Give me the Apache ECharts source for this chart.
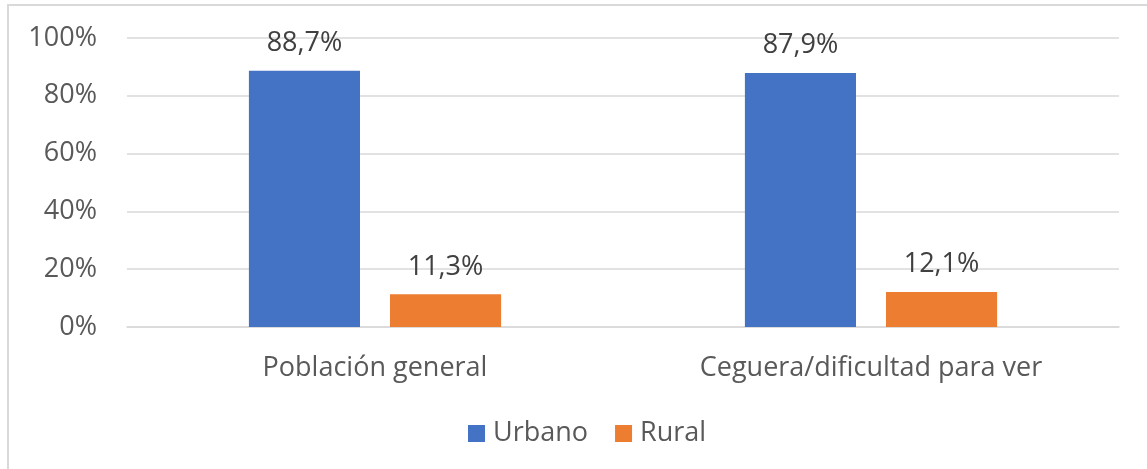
<!DOCTYPE html>
<html>

<head>
    <meta charset="utf-8">
    <title>ECharts</title>
    <script src="https://cdn.jsdelivr.net/npm/echarts@6/dist/echarts.min.js"></script>
    <style>
        body { margin: 0; background: #fff; }
        #frame { position: absolute; left: 7px; top: 4px; width: 1160px; height: 480px; border: 2px solid #d9d9d9; box-sizing: border-box; }
        #main { position: absolute; left: 0; top: 0; width: 1147px; height: 469px; }
    </style>
</head>

<body>
    <div id="frame"></div>
    <div id="main"></div>
    <script type="text/javascript">
        // datos
        var categorias = ['Población general', 'Ceguera/dificultad para ver'];
        var urbano = [88.7, 87.9];
        var rural = [11.3, 12.1];
        var ticksY = [0, 20, 40, 60, 80, 100];

        var fuente = '"Open Sans", "Noto Sans", sans-serif';
        var tam = 27;

        var myChart = echarts.init(document.getElementById('main'));

        function etiqueta(p) {
            return p.value.toFixed(1).replace('.', ',') + '%';
        }

        var option = {
            animation: false,
            textStyle: { fontFamily: fuente },
            grid: { left: 127, right: 28, top: 38, bottom: 142 },
            legend: {
                left: 463,
                top: 415,
                itemWidth: 17,
                itemHeight: 17,
                itemGap: 27,
                icon: 'rect',
                textStyle: { fontSize: tam, color: '#595959', fontFamily: fuente, padding: [0, 0, 0, 3] },
                data: ['Urbano', 'Rural']
            },
            xAxis: {
                type: 'category',
                data: categorias,
                axisLine: { lineStyle: { color: '#d9d9d9', width: 1.5 } },
                axisTick: { show: false },
                axisLabel: { fontSize: tam, color: '#595959', margin: 28, fontFamily: fuente }
            },
            yAxis: {
                type: 'value',
                min: ticksY[0],
                max: ticksY[ticksY.length - 1],
                interval: 20,
                axisLine: { show: false },
                axisTick: { show: false },
                splitLine: { lineStyle: { color: '#d9d9d9', width: 1.5 } },
                axisLabel: { fontSize: tam, color: '#595959', margin: 30, fontFamily: fuente, formatter: '{value}%' }
            },
            series: [
                {
                    name: 'Urbano',
                    type: 'bar',
                    data: urbano,
                    barWidth: '22.4%',
                    barGap: '27%',
                    itemStyle: { color: '#4472c4' },
                    label: { show: true, position: 'top', distance: 14, fontSize: tam, color: '#404040', fontFamily: fuente, formatter: etiqueta }
                },
                {
                    name: 'Rural',
                    type: 'bar',
                    data: rural,
                    barWidth: '22.4%',
                    barGap: '27%',
                    itemStyle: { color: '#ed7d31' },
                    label: { show: true, position: 'top', distance: 14, fontSize: tam, color: '#404040', fontFamily: fuente, formatter: etiqueta }
                }
            ]
        };

        myChart.setOption(option);
        window.onresize = myChart.resize;
    </script>
</body>

</html>
